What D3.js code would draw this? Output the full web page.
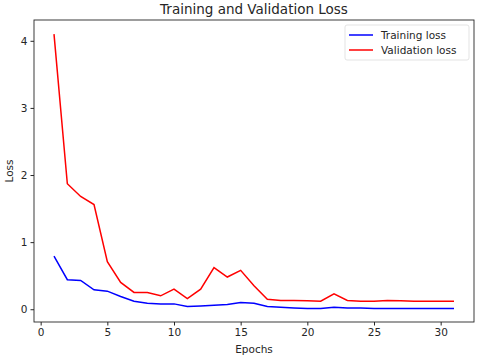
<!DOCTYPE html>
<html>
<head>
<meta charset="utf-8">
<script src="https://cdn.jsdelivr.net/npm/d3@7"></script>
<style>
  body { margin: 0; background: #fff; }
  svg text { font-family: "DejaVu Sans", sans-serif; fill: #262626; }
</style>
</head>
<body>
<div id="chart-area"><svg></svg></div>
<script>
const epochs = d3.range(1, 32);
const trainingLoss = [0.79, 0.44, 0.43, 0.29, 0.27, 0.19, 0.12, 0.09, 0.08, 0.08,
    0.04, 0.05, 0.06, 0.07, 0.10, 0.09, 0.04, 0.03, 0.02, 0.01,
    0.01, 0.03, 0.02, 0.02, 0.01, 0.01, 0.01, 0.01, 0.01, 0.01, 0.01];
const validationLoss = [4.10, 1.87, 1.68, 1.56, 0.71, 0.40, 0.25, 0.25, 0.20, 0.30,
    0.16, 0.30, 0.62, 0.48, 0.58, 0.35, 0.15, 0.13, 0.13, 0.125,
    0.12, 0.23, 0.13, 0.12, 0.12, 0.13, 0.125, 0.12, 0.12, 0.12, 0.12];
const xTicks = [0, 5, 10, 15, 20, 25, 30];
const yTicks = [0, 1, 2, 3, 4];

const chartSize = { width: 480, height: 359 };
const margin = { left: 34, right: 6, top: 20, bottom: 37 };
const width = chartSize.width - margin.left - margin.right;
const height = chartSize.height - margin.top - margin.bottom;

const series = [
    { name: "Training loss", values: trainingLoss, color: "#0000ff" },
    { name: "Validation loss", values: validationLoss, color: "#ff0000" }
];

const svg = d3.select("#chart-area svg")
    .attr("width", chartSize.width)
    .attr("height", chartSize.height);

const g = svg.append("g")
    .attr("transform", `translate(${margin.left},${margin.top})`);

const x = d3.scaleLinear().domain([-0.5, 32.5]).range([0, width]);
const y = d3.scaleLinear().domain([-0.19, 4.31]).range([height, 0]);

const xAxis = g.append("g")
    .attr("transform", `translate(0,${height})`)
    .call(d3.axisBottom(x).tickValues(xTicks).tickFormat(d3.format("d")).tickSize(3.5).tickPadding(3));
const yAxis = g.append("g")
    .call(d3.axisLeft(y).tickValues(yTicks).tickFormat(d3.format("d")).tickSize(3.5).tickPadding(3));

[xAxis, yAxis].forEach(a => {
    a.selectAll("text").attr("font-size", "10.5px").style("font-family", "DejaVu Sans");
    a.selectAll("line").attr("stroke", "#262626");
    a.select(".domain").remove();
});

g.append("rect")
    .attr("width", width)
    .attr("height", height)
    .attr("fill", "none")
    .attr("stroke", "#262626")
    .attr("stroke-width", 0.9);

const line = d3.line()
    .x((d, i) => x(epochs[i]))
    .y(d => y(d));

g.selectAll(".series")
    .data(series)
    .enter()
    .append("path")
    .attr("class", "series")
    .attr("fill", "none")
    .attr("stroke", s => s.color)
    .attr("stroke-width", 1.5)
    .attr("d", s => line(s.values));

// title and axis labels
svg.append("text")
    .attr("x", margin.left + width / 2)
    .attr("y", 14)
    .attr("text-anchor", "middle")
    .attr("font-size", "13.5px")
    .text("Training and Validation Loss");

svg.append("text")
    .attr("x", margin.left + width / 2)
    .attr("y", 353)
    .attr("text-anchor", "middle")
    .attr("font-size", "10.5px")
    .text("Epochs");

svg.append("text")
    .attr("transform", `translate(13,${margin.top + height / 2}) rotate(-90)`)
    .attr("text-anchor", "middle")
    .attr("font-size", "10.5px")
    .text("Loss");

// legend
const legend = g.append("g").attr("transform", `translate(${width - 129},5)`);
legend.append("rect")
    .attr("width", 124)
    .attr("height", 35)
    .attr("rx", 2)
    .attr("fill", "#fff")
    .attr("stroke", "#dcdcdc")
    .attr("stroke-width", 0.8);

const items = legend.selectAll(".item")
    .data(series)
    .enter()
    .append("g")
    .attr("transform", (s, i) => `translate(4,${10 + i * 15})`);
items.append("line")
    .attr("x1", 0).attr("x2", 24)
    .attr("stroke", s => s.color)
    .attr("stroke-width", 1.5);
items.append("text")
    .attr("x", 32)
    .attr("dy", "0.35em")
    .attr("font-size", "10.5px")
    .text(s => s.name);
</script>
</body>
</html>
